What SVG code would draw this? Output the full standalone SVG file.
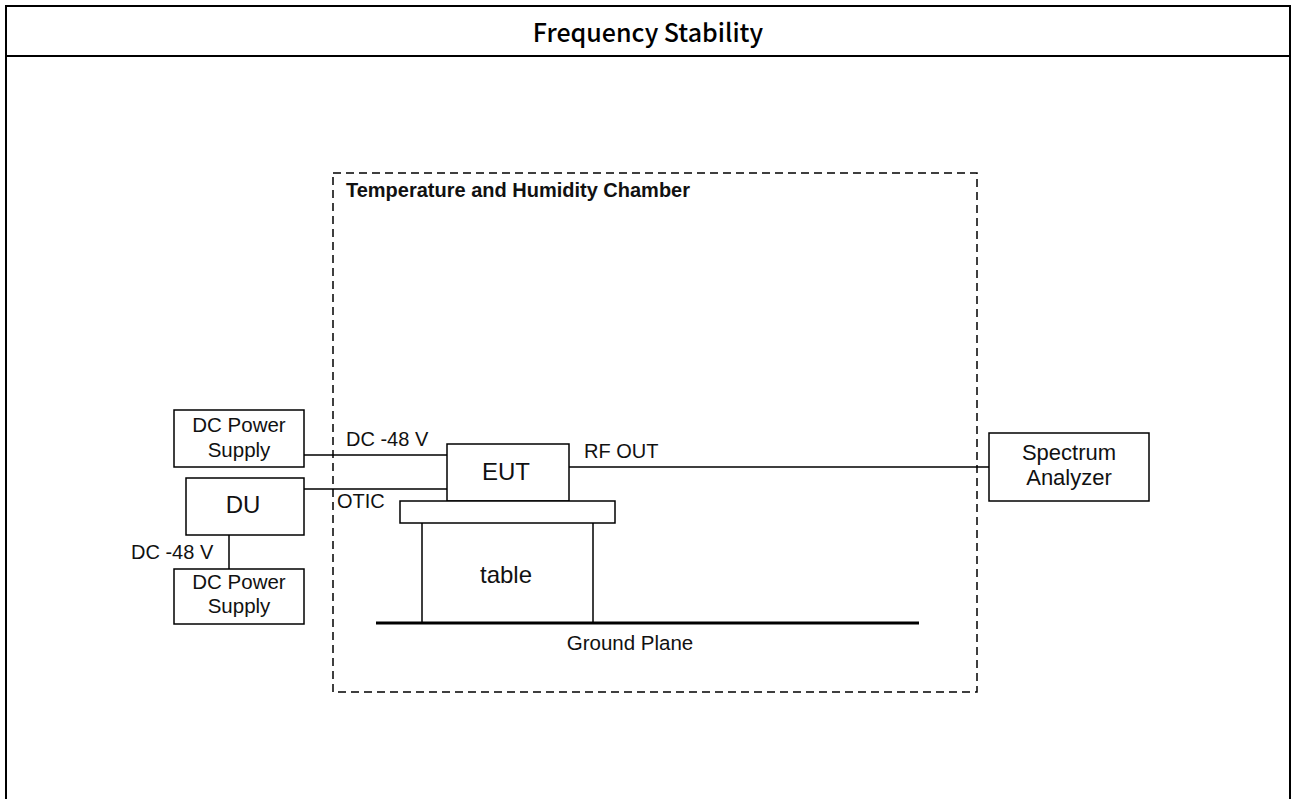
<svg xmlns="http://www.w3.org/2000/svg" width="1292" height="799" viewBox="0 0 1292 799">
<style>
.frame{fill:none;stroke:#000;stroke-width:2}
.box{fill:#fff;stroke:#000;stroke-width:1.5}
.ln{fill:none;stroke:#000;stroke-width:1.5}
.t{font-family:"Liberation Sans",Arial,sans-serif;font-size:20px;fill:#111}
.c{text-anchor:middle}
.b{font-size:24px}
</style>
<rect width="1292" height="799" fill="#fff"/>
<g id="frame">
<path class="frame" d="M6,800 V6 H1290 V800 M6,56 H1290"/>
<text x="648" y="42" text-anchor="middle" font-family="'Noto Sans CJK KR','Noto Sans',sans-serif" font-size="25" font-weight="500" fill="#000">Frequency Stability</text>
</g>
<g id="chamber">
<rect x="333" y="173" width="644" height="519" fill="none" stroke="#000" stroke-width="1.5" stroke-dasharray="8,5"/>
<text x="346" y="197" font-family="'Liberation Sans',Arial,sans-serif" font-size="20" font-weight="bold" fill="#111" textLength="344" lengthAdjust="spacingAndGlyphs">Temperature and Humidity Chamber</text>
</g>
<g id="connectors">
<path class="ln" d="M304,455 H447 M304,489 H447 M229,535 V569 M569,467 H989"/>
<path class="ln" d="M422,523 V623 M593,523 V623"/>
<path fill="none" stroke="#000" stroke-width="3" d="M376,623 H919"/>
<text class="t" x="346" y="446">DC -48 V</text>
<text class="t" x="337" y="508">OTIC</text>
<text class="t" x="131" y="559">DC -48 V</text>
<text class="t" x="584" y="458">RF OUT</text>
</g>
<g id="dcps1">
<rect class="box" x="174" y="410" width="130" height="57"/>
<text class="t c" x="239" y="432" style="font-size:20.5px">DC Power</text>
<text class="t c" x="239" y="457" style="font-size:20.5px">Supply</text>
</g>
<g id="du">
<rect class="box" x="186" y="478" width="118" height="57"/>
<text class="t c b" x="243" y="513">DU</text>
</g>
<g id="dcps2">
<rect class="box" x="174" y="569" width="130" height="55"/>
<text class="t c" x="239" y="589" style="font-size:20.5px">DC Power</text>
<text class="t c" x="239" y="613" style="font-size:20.5px">Supply</text>
</g>
<g id="eut">
<rect class="box" x="447" y="444" width="122" height="57"/>
<text class="t c b" x="506" y="480">EUT</text>
</g>
<g id="tabletop">
<rect class="box" x="400" y="501" width="215" height="22"/>
</g>
<g id="table">
<text class="t c b" x="506" y="583">table</text>
</g>
<g id="ground">
<text class="t c" x="630" y="650" style="font-size:20.5px">Ground Plane</text>
</g>
<g id="sa">
<rect class="box" x="989" y="433" width="160" height="68"/>
<text class="t c" x="1069" y="460" style="font-size:22px">Spectrum</text>
<text class="t c" x="1069" y="485" style="font-size:22px">Analyzer</text>
</g>
</svg>
